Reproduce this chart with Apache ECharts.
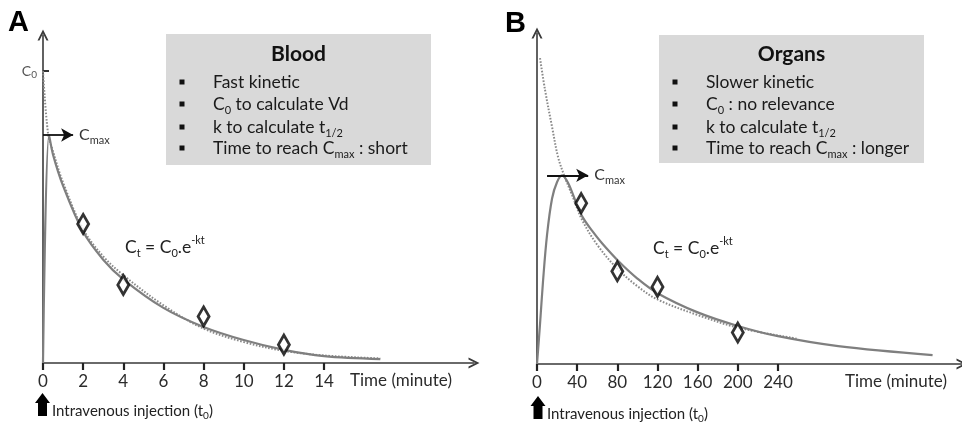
<!DOCTYPE html>
<html>
<head>
<meta charset="utf-8">
<script src="https://cdn.jsdelivr.net/npm/echarts@6/dist/echarts.min.js"></script>
<style>
  html, body { margin: 0; padding: 0; background: #ffffff; }
  #chart { width: 962px; height: 425px; }
</style>
</head>
<body>
<div id="chart"></div>
<script>
// ---- Panel A: blood (time in minutes, concentration in arbitrary units) ----
const bloodCurveTime = [0, 0.3, 0.5, 1, 2, 3, 4, 6, 8, 10, 12, 14, 16.8];
const bloodCurveConc = [0, 69.5, 63.5, 54, 40, 31.5, 25.5, 16.8, 11, 7, 4, 2.1, 1.2];
const bloodFitTime = [0, 0.25, 0.5, 1, 2, 3, 4, 6, 8, 10, 12, 14, 16.8];
const bloodFitConc = [89, 70, 64.5, 55, 40.8, 32.5, 26.8, 17.6, 10.5, 6.4, 3.7, 2.3, 1.4];
const bloodSampleTime = [2, 4, 8, 12];
const bloodSampleConc = [42.4, 23.8, 14.2, 5.6];
const bloodTicks = [0, 2, 4, 6, 8, 10, 12, 14];
const bloodC0 = 89;
const bloodCmax = 69.5;

// ---- Panel B: organs ----
const organCurveTime = [0, 3, 6, 10, 15, 20, 25, 31, 38, 45, 55, 65, 82, 100, 120, 160, 200, 240, 300, 394];
const organCurveConc = [0, 12, 25, 39, 50, 55, 57, 54.7, 49.5, 44.6, 40.2, 36.4, 30.8, 25.8, 21.4, 15.6, 11.5, 8.4, 5.4, 2.7];
const organFitTime = [3, 8, 15, 21, 27, 35, 45, 60, 80, 100, 120, 160, 200, 260];
const organFitConc = [92.4, 82.8, 71.6, 62.5, 57, 51, 43.5, 36, 28.8, 23.5, 19.5, 14.8, 11, 7.6];
const organSampleTime = [44, 80, 120, 200];
const organSampleConc = [48.6, 28, 23.3, 9.5];
const organTicks = [0, 40, 80, 120, 160, 200, 240];
const organCmax = 57;

const pairs = (xs, ys) => xs.map((x, i) => [x, ys[i]]);

const FONT = 'Lato, "Open Sans", sans-serif';
const INK = '#222222';
const CURVE = '#7f7f7f';
const FIT = '#8a8a8a';
// open chevron used as the axis arrow head
const CHEVRON = 'path://M0,10L5,0L10,10L8.2,10L5,3.6L1.8,10Z';

const subRich = {
  s: { fontSize: 11, lineHeight: 12, verticalAlign: 'bottom', fontFamily: FONT, color: INK },
  p: { fontSize: 11, lineHeight: 12, verticalAlign: 'top', fontFamily: FONT, color: INK }
};

function axisLineStyle() {
  return { show: true, onZero: false, symbol: ['none', CHEVRON], symbolSize: [12, 11],
           lineStyle: { color: '#3a3a3a', width: 1.6 } };
}

function xAxisFor(gridIndex, max, ticks) {
  return {
    type: 'value', gridIndex, min: 0, max,
    splitLine: { show: false },
    axisLine: axisLineStyle(),
    axisTick: { show: true, customValues: ticks, length: 7, lineStyle: { color: '#222', width: 2.2 } },
    axisLabel: { show: true, customValues: ticks, margin: 10, fontSize: 17, color: '#2b2b2b', fontFamily: FONT }
  };
}

function curveSeries(idx, data, color, dotted) {
  return {
    type: 'line', xAxisIndex: idx, yAxisIndex: idx, data,
    showSymbol: false, smooth: 0.35, silent: true,
    lineStyle: dotted ? { color, width: 2, type: [1.6, 1.6] } : { color, width: 2.2 },
    z: dotted ? 2 : 3
  };
}

function samples(idx, data) {
  return {
    type: 'scatter', xAxisIndex: idx, yAxisIndex: idx, data,
    symbol: 'diamond', symbolSize: [11, 19], silent: true,
    itemStyle: { color: '#ffffff', borderColor: '#000', borderWidth: 3 }, z: 5
  };
}

function cmaxArrow(idx, from, to, level) {
  return {
    type: 'line', xAxisIndex: idx, yAxisIndex: idx, data: [], silent: true,
    markLine: {
      silent: true, animation: false,
      symbol: ['none', 'arrow'], symbolSize: [10, 12],
      lineStyle: { color: '#111', width: 1.8, type: 'solid' },
      label: { show: true, position: 'end', distance: 6, formatter: 'C{s|max}',
               fontSize: 16, lineHeight: 22, color: '#333', fontFamily: FONT,
               rich: { s: { fontSize: 11, lineHeight: 12, verticalAlign: 'bottom', color: '#333', fontFamily: FONT } } },
      data: [[{ coord: [from, level] }, { coord: [to, level] }]]
    }
  };
}

function text(x, y, str, opts) {
  return Object.assign({
    type: 'text', x, y, silent: true,
    style: Object.assign({ text: str, fill: INK, fontFamily: FONT, fontSize: 17, lineHeight: 24,
                           textVerticalAlign: 'middle', rich: subRich }, (opts && opts.style) || {})
  }, opts && opts.el ? opts.el : {});
}

function upArrow(cx, top) {
  return {
    type: 'polygon', silent: true,
    shape: { points: [[cx, top], [cx + 7.5, top + 10], [cx + 4.5, top + 10], [cx + 4.5, top + 23],
                      [cx - 4.5, top + 23], [cx - 4.5, top + 10], [cx - 7.5, top + 10]] },
    style: { fill: '#000' }
  };
}

function infoBox(x, y, w, h, title, lines, bulletX, textX) {
  const rowY = [82, 104, 127, 148];
  const children = [
    { type: 'rect', shape: { x, y, width: w, height: h }, style: { fill: '#d9d9d9' } },
    text(x + w / 2, 54, title, { style: { fontSize: 21, fontWeight: 'bold', textAlign: 'center', fill: '#111' } })
  ];
  lines.forEach((ln, i) => {
    children.push({ type: 'rect', shape: { x: bulletX - 2.5, y: rowY[i] - 2.5, width: 5, height: 5 }, style: { fill: '#111' } });
    children.push(text(textX, rowY[i], ln, { style: { fill: '#1a1a1a', fontSize: 17.5 } }));
  });
  return { type: 'group', silent: true, children };
}

const chart = echarts.init(document.getElementById('chart'), null, { renderer: 'canvas' });

chart.setOption({
  animation: false,
  backgroundColor: '#ffffff',
  grid: [
    { left: 43, top: 35, width: 431, height: 328 },
    { left: 537, top: 33, width: 425, height: 331 }
  ],
  xAxis: [
    xAxisFor(0, 21.47, bloodTicks),
    xAxisFor(1, 423.3, organTicks)
  ],
  yAxis: [
    {
      type: 'value', gridIndex: 0, min: 0, max: 100,
      splitLine: { show: false },
      axisLine: axisLineStyle(),
      axisTick: { show: true, inside: true, customValues: [bloodC0], length: 6, lineStyle: { color: '#333', width: 2 } },
      axisLabel: { show: true, customValues: [bloodC0], margin: 6, formatter: () => 'C{s|0}',
                   fontSize: 14, lineHeight: 18, color: '#555', fontFamily: FONT,
                   rich: { s: { fontSize: 10, lineHeight: 10, verticalAlign: 'bottom', color: '#555', fontFamily: FONT } } }
    },
    {
      type: 'value', gridIndex: 1, min: 0, max: 100,
      splitLine: { show: false },
      axisLine: axisLineStyle(),
      axisTick: { show: false },
      axisLabel: { show: false }
    }
  ],
  series: [
    curveSeries(0, pairs(bloodFitTime, bloodFitConc), FIT, true),
    curveSeries(0, pairs(bloodCurveTime, bloodCurveConc), CURVE, false),
    samples(0, pairs(bloodSampleTime, bloodSampleConc)),
    cmaxArrow(0, 0, 1.5, bloodCmax),
    curveSeries(1, pairs(organFitTime, organFitConc), FIT, true),
    curveSeries(1, pairs(organCurveTime, organCurveConc), CURVE, false),
    samples(1, pairs(organSampleTime, organSampleConc)),
    cmaxArrow(1, 10, 51, organCmax)
  ],
  graphic: [
    // panel letters
    text(8, 23, 'A', { style: { fontSize: 29, fontWeight: 'bold', fontFamily: '"Liberation Sans", Arial, sans-serif', fill: '#000' } }),
    text(505, 24, 'B', { style: { fontSize: 29, fontWeight: 'bold', fontFamily: '"Liberation Sans", Arial, sans-serif', fill: '#000' } }),
    // axis titles
    text(28, 225, 'Concentration in plasma', { style: { fontSize: 16.5, textAlign: 'center', fill: '#333' }, el: { rotation: Math.PI / 2, originX: 28, originY: 225 } }),
    text(520, 215, 'Concentration in organ', { style: { fontSize: 16.5, textAlign: 'center', fill: '#333' }, el: { rotation: Math.PI / 2, originX: 520, originY: 215 } }),
    text(350, 381, 'Time (minute)', { style: { fill: '#2b2b2b' } }),
    text(845, 382, 'Time (minute)', { style: { fill: '#2b2b2b' } }),
    // equations
    text(125, 247, 'C{s|t} = C{s|0}.e{p|-kt}', { style: { fontSize: 17.5 } }),
    text(653, 248, 'C{s|t} = C{s|0}.e{p|-kt}', { style: { fontSize: 17.5 } }),
    // injection markers
    upArrow(42.5, 393),
    text(52, 411, 'Intravenous injection (t{s|0})', { style: { fontSize: 15, lineHeight: 20, rich: { s: { fontSize: 10, lineHeight: 10, verticalAlign: 'bottom', fontFamily: FONT, fill: INK } } } }),
    upArrow(538, 396),
    text(547, 414, 'Intravenous injection (t{s|0})', { style: { fontSize: 15, lineHeight: 20, rich: { s: { fontSize: 10, lineHeight: 10, verticalAlign: 'bottom', fontFamily: FONT, fill: INK } } } }),
    // summary boxes
    infoBox(166, 34, 265, 131, 'Blood',
      ['Fast kinetic', 'C{s|0} to calculate Vd', 'k to calculate t{s|1/2}', 'Time to reach C{s|max} : short'], 182, 213),
    infoBox(659, 35, 265, 128, 'Organs',
      ['Slower kinetic', 'C{s|0} : no relevance', 'k to calculate t{s|1/2}', 'Time to reach C{s|max} : longer'], 675, 706)
  ]
});
</script>
</body>
</html>
